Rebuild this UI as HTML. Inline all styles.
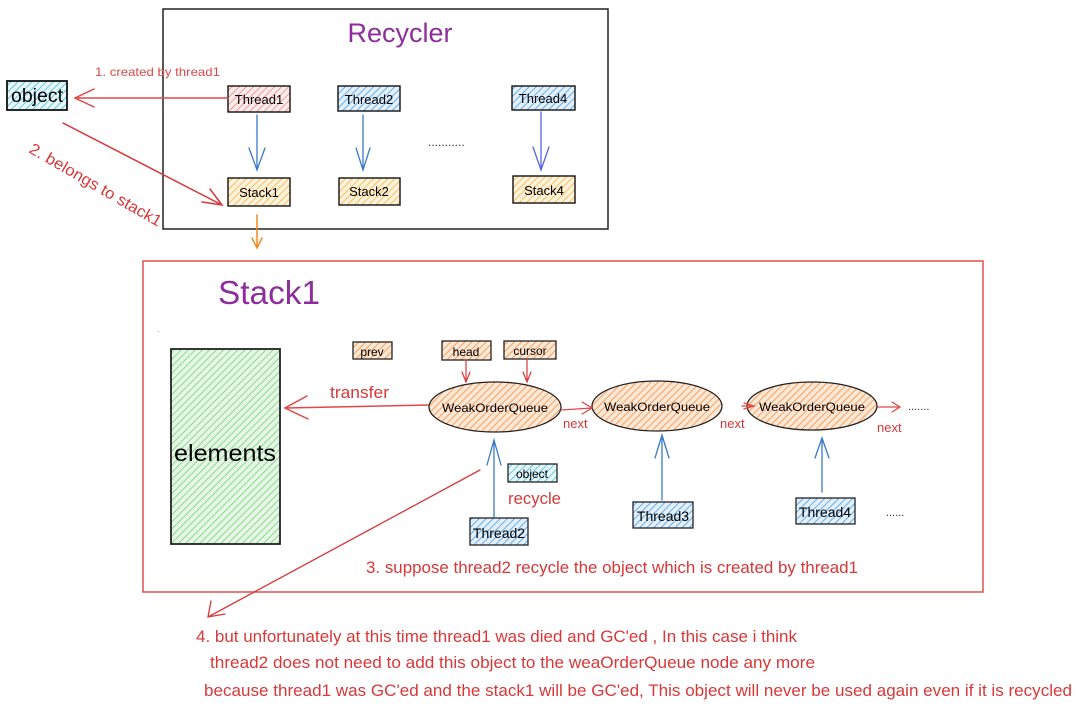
<!DOCTYPE html>
<html><head><meta charset="utf-8">
<style>
html,body{margin:0;padding:0;background:#fff;width:1080px;height:709px;overflow:hidden}
svg{display:block}
text{font-family:"Liberation Sans Narrow","Liberation Sans",sans-serif}
</style></head><body>
<svg width="1080" height="709" viewBox="0 0 1080 709" xmlns="http://www.w3.org/2000/svg" xml:space="preserve">
<defs>
<pattern id="hc" width="5" height="5" patternUnits="userSpaceOnUse" patternTransform="rotate(45)"><rect width="5" height="5" fill="#e6f8fb"/><line x1="0" y1="0" x2="0" y2="5" stroke="#6cc8d8" stroke-width="2"/></pattern>
<pattern id="hp" width="5" height="5" patternUnits="userSpaceOnUse" patternTransform="rotate(45)"><rect width="5" height="5" fill="#fdecec"/><line x1="0" y1="0" x2="0" y2="5" stroke="#f09a9a" stroke-width="2"/></pattern>
<pattern id="hb" width="5" height="5" patternUnits="userSpaceOnUse" patternTransform="rotate(45)"><rect width="5" height="5" fill="#e3f0fc"/><line x1="0" y1="0" x2="0" y2="5" stroke="#6aaee8" stroke-width="2"/></pattern>
<pattern id="hy" width="5" height="5" patternUnits="userSpaceOnUse" patternTransform="rotate(45)"><rect width="5" height="5" fill="#fdf3dc"/><line x1="0" y1="0" x2="0" y2="5" stroke="#f5c060" stroke-width="2"/></pattern>
<pattern id="ho" width="5" height="5" patternUnits="userSpaceOnUse" patternTransform="rotate(45)"><rect width="5" height="5" fill="#fde8d6"/><line x1="0" y1="0" x2="0" y2="5" stroke="#f5a060" stroke-width="2"/></pattern>
<pattern id="hg" width="5" height="5" patternUnits="userSpaceOnUse" patternTransform="rotate(45)"><rect width="5" height="5" fill="#e6f6e6"/><line x1="0" y1="0" x2="0" y2="5" stroke="#8fd890" stroke-width="2"/></pattern>
</defs>

<rect x="163" y="9" width="445" height="220" fill="none" stroke="#222" stroke-width="1.5"/>
<text x="400" y="42" font-size="27" fill="#8e2d9c" text-anchor="middle" font-family="Liberation Sans, sans-serif">Recycler</text>

<rect x="7" y="81" width="60" height="29" fill="url(#hc)" stroke="#111" stroke-width="1.8"/>
<text x="37" y="102" font-size="19" text-anchor="middle" textLength="52" lengthAdjust="spacingAndGlyphs">object</text>

<g stroke="#111" stroke-width="1.4">
<rect x="228" y="86" width="62" height="26" fill="url(#hp)"/>
<rect x="338" y="86" width="62" height="25" fill="url(#hb)"/>
<rect x="512" y="86" width="63" height="24" fill="url(#hb)"/>
<rect x="228" y="178" width="62" height="28" fill="url(#hy)"/>
<rect x="339" y="178" width="61" height="27" fill="url(#hy)"/>
<rect x="513" y="176" width="62" height="27" fill="url(#hy)"/>
</g>
<g font-size="13" text-anchor="middle">
<text x="259" y="104">Thread1</text><text x="369" y="104">Thread2</text><text x="543" y="103">Thread4</text>
<text x="259" y="197">Stack1</text><text x="369" y="196">Stack2</text><text x="544" y="195">Stack4</text>
</g>

<g fill="none" stroke-linecap="round">
<path d="M228 98 L75 98 M94 89 L75 98 L94 107" stroke="#e04848" stroke-width="1.5"/>
<path d="M63 123 L222 205 M202 202 L222 205 L210 189" stroke="#d83838" stroke-width="1.5"/>
<path d="M257 115 L257 170 M249 148 L257 170 L265 148" stroke="#3a7ac8" stroke-width="1.3"/>
<path d="M363 115 L363 170 M356 148 L363 170 L370 148" stroke="#3a7ac8" stroke-width="1.3"/>
<path d="M541 112 L541 170 M533 147 L541 170 L549 147" stroke="#5566d8" stroke-width="1.3"/>
<path d="M257 215 L257 248 M252 238 L257 248 L262 238" stroke="#f08a20" stroke-width="1.5"/>
</g>
<text x="95" y="76" font-size="12" fill="#e04848" textLength="125" lengthAdjust="spacingAndGlyphs">1. created by thread1</text>
<text x="28" y="152" font-size="16" fill="#d83838" transform="rotate(30 28 152)" textLength="150" lengthAdjust="spacingAndGlyphs">2. belongs to stack1</text>
<text x="428" y="146" font-size="12" fill="#333">...........</text>

<rect x="143" y="261" width="840" height="331" fill="none" stroke="#e05050" stroke-width="1.5"/>
<text x="218" y="304" font-size="33" fill="#8e2d9c" textLength="102" lengthAdjust="spacingAndGlyphs">Stack1</text>

<rect x="171" y="349" width="109" height="195" fill="url(#hg)" stroke="#222" stroke-width="1.8"/>
<text x="225" y="461" font-size="23" text-anchor="middle" textLength="102" lengthAdjust="spacingAndGlyphs">elements</text>

<g stroke="#222" stroke-width="1.3">
<rect x="353" y="342" width="39" height="17" fill="url(#ho)"/>
<rect x="442" y="341" width="49" height="19" fill="url(#ho)"/>
<rect x="504" y="341" width="52" height="18" fill="url(#ho)"/>
<ellipse cx="495" cy="407" rx="66" ry="25" fill="url(#ho)"/>
<ellipse cx="657" cy="406" rx="65" ry="25" fill="url(#ho)"/>
<ellipse cx="812" cy="406" rx="65" ry="24" fill="url(#ho)"/>
<rect x="508" y="464" width="49" height="18" fill="url(#hc)"/>
<rect x="470" y="518" width="58" height="27" fill="url(#hb)"/>
<rect x="633" y="502" width="60" height="26" fill="url(#hb)"/>
<rect x="796" y="498" width="59" height="26" fill="url(#hb)"/>
</g>
<g font-size="12" text-anchor="middle">
<text x="372" y="356">prev</text><text x="466" y="356">head</text><text x="530" y="355">cursor</text>
<text x="495" y="412" textLength="106" lengthAdjust="spacingAndGlyphs">WeakOrderQueue</text><text x="657" y="411" textLength="106" lengthAdjust="spacingAndGlyphs">WeakOrderQueue</text><text x="812" y="411" textLength="106" lengthAdjust="spacingAndGlyphs">WeakOrderQueue</text>
<text x="532" y="478">object</text>
</g>
<g font-size="14" text-anchor="middle">
<text x="499" y="538">Thread2</text><text x="663" y="521">Thread3</text><text x="825" y="517">Thread4</text>
</g>

<g fill="none" stroke-linecap="round">
<path d="M466 360 L466 382 M462 372 L466 382 L470 372" stroke="#d83838" stroke-width="1.2"/>
<path d="M527 359 L527 382 M523 372 L527 382 L531 372" stroke="#d83838" stroke-width="1.2"/>
<path d="M428 405 L285 408 M307 396 L285 408 L308 419" stroke="#e04848" stroke-width="1.5"/>
<path d="M561 410 L592 408 M582 402 L592 408 L582 414" stroke="#e04848" stroke-width="1.3"/>
<path d="M742 406 L754 406 M744 403 L754 406 L744 409" stroke="#e04848" stroke-width="1.3"/>
<path d="M878 407 L900 407 M892 402 L900 407 L892 412" stroke="#e04848" stroke-width="1.3"/>
<path d="M494 517 L494 440 M487 465 L494 440 L501 465" stroke="#3a7ac8" stroke-width="1.3"/>
<path d="M662 500 L662 435 M655 458 L662 435 L669 458" stroke="#3a7ac8" stroke-width="1.3"/>
<path d="M822 492 L822 438 M815 458 L822 438 L829 458" stroke="#3a7ac8" stroke-width="1.3"/>
<path d="M480 470 L208 617 M211 601 L208 617 L225 614" stroke="#d83838" stroke-width="1.3"/>
</g>
<g fill="#d83838">
<text x="330" y="398" font-size="17" textLength="59" lengthAdjust="spacingAndGlyphs">transfer</text>
<text x="563" y="428" font-size="13">next</text>
<text x="720" y="428" font-size="13">next</text>
<text x="877" y="432" font-size="13">next</text>
<text x="508" y="504" font-size="17" textLength="53" lengthAdjust="spacingAndGlyphs">recycle</text>
<text x="366" y="573" font-size="17" textLength="492" lengthAdjust="spacingAndGlyphs">3.  suppose thread2 recycle the object  which is created by thread1</text>
<text x="196" y="642" font-size="17" textLength="601" lengthAdjust="spacingAndGlyphs">4. but unfortunately at this time  thread1 was died and GC'ed  ,  In this case i think</text>
<text x="210" y="668" font-size="17" textLength="605" lengthAdjust="spacingAndGlyphs">thread2 does not need to add this object to the weaOrderQueue node any more</text>
<text x="204" y="696" font-size="17" textLength="868" lengthAdjust="spacingAndGlyphs">because thread1 was GC'ed and the stack1 will be GC'ed,  This object will never be used again even if it is recycled</text>
</g>
<text x="908" y="410" font-size="11" fill="#333">.......</text>
<text x="886" y="516" font-size="11" fill="#333">......</text>
<text x="157" y="332" font-size="8" fill="#666">.</text>
</svg>
</body></html>
